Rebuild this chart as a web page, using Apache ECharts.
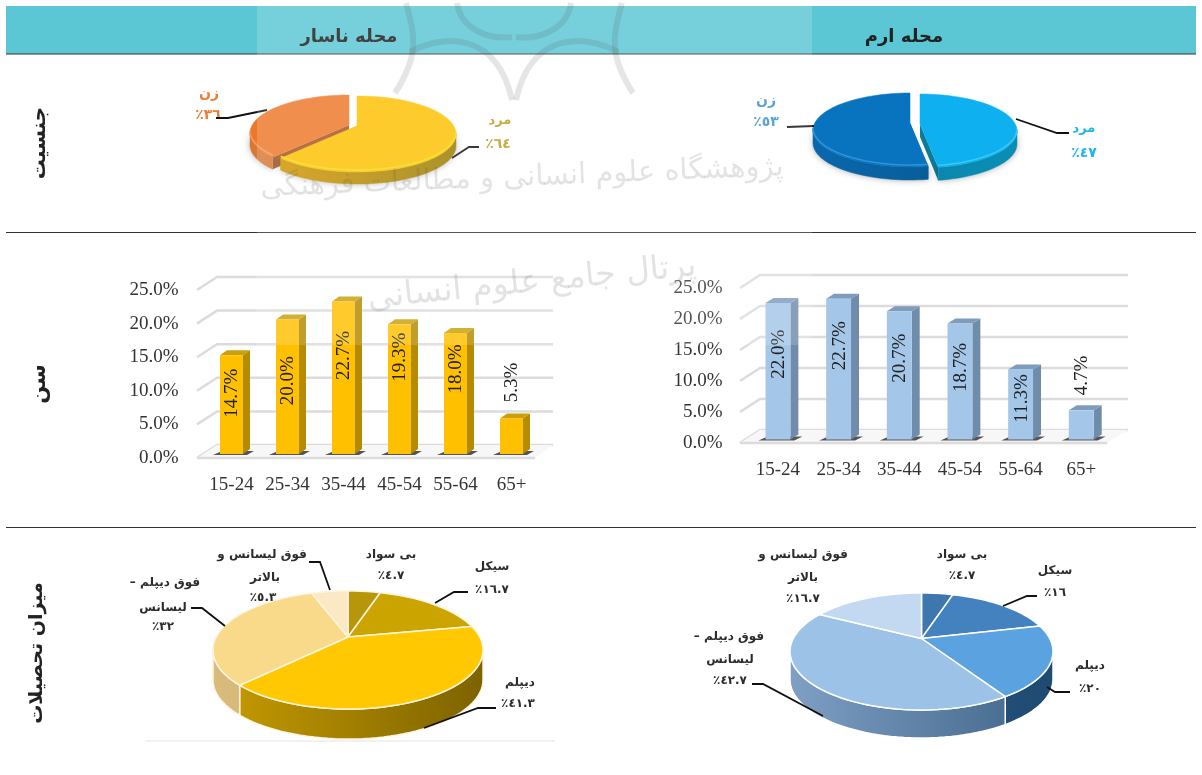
<!DOCTYPE html>
<html>
<head>
<meta charset="utf-8">
<style>
html, body { margin: 0; padding: 0; background: #fff; }
#main { width: 1202px; height: 775px; }
</style>
</head>
<body>
<div id="main"></div>
<script src="https://cdn.jsdelivr.net/npm/echarts@6/dist/echarts.min.js"></script>
<script>
// داده ها
const ageCategories = ['15-24', '25-34', '35-44', '45-54', '55-64', '65+']
const nasarAge = [14.7, 20.0, 22.7, 19.3, 18.0, 5.3]
const eramAge = [22.0, 22.7, 20.7, 18.7, 11.3, 4.7]
const ageTicks = [0, 5, 10, 15, 20, 25]

const nasarGender = [64, 36]
const eramGender = [47, 53]

const nasarEducation = [4.7, 16.7, 41.3, 32, 5.3]
const eramEducation = [4.7, 16, 20, 42.7, 16.7]

const faFont = '"DejaVu Sans"'
const latinFont = '"Liberation Serif"'

// label offset below the bar top, px
const nasarLabelDy = [38, 61, 54, 33, 36, -36]
const eramLabelDy = [51, 47, 47, 44, 29, -35]

const myChart = echarts.init(document.getElementById('main'))

function rad(a) { return a * Math.PI / 180 }

// one elliptical 3D pie, angles clockwise from the top
function pieSeries(values, p) {
  const total = values.reduce((s, v) => s + v, 0)
  // perspective: near slices open up, far ones close
  const warp = (a) => a - (p.warp || 0) * Math.sin(rad(a))
  return {
    type: 'custom',
    coordinateSystem: 'none',
    silent: true,
    animation: false,
    z: 3,
    data: values.map((v, i) => [v, i]),
    renderItem: function (params, api) {
      const i = params.dataIndex
      let before = 0
      for (let k = 0; k < i; k++) before += values[k]
      const a0 = warp(before / total * 360)
      const a1 = warp((before + api.value(0)) / total * 360)
      const off = p.explode ? p.explode[i] : [0, 0]
      const order = p.order ? p.order[i] : 0
      const cx = p.cx + off[0]
      const cy = p.cy + off[1]
      const at = function (a, down) {
        return [cx + p.rx * Math.sin(rad(a)), cy - p.ry * Math.cos(rad(a)) + (down || 0)]
      }
      const tip = [cx, cy - p.tipUp]
      const arc = function (from, to, down) {
        const pts = []
        const n = Math.max(2, Math.ceil((to - from) / 3))
        for (let k = 0; k <= n; k++) pts.push(at(from + (to - from) * k / n, down))
        return pts
      }
      const children = []
      const sideFill = {
        type: 'linear', global: true,
        x: p.cx - p.rx, y: 0, x2: p.cx + p.rx, y2: 0,
        colorStops: [
          { offset: 0, color: p.side[i][0] },
          { offset: 1, color: p.side[i][1] }
        ]
      }
      const wallStyle = {
        fill: sideFill,
        stroke: p.stroke || sideFill,
        lineWidth: p.stroke ? 1.5 : 0.5,
        shadowBlur: p.shadow ? 6 : 0,
        shadowColor: 'rgba(0,0,0,0.3)'
      }
      // cut faces, only for pulled out slices
      if (p.explode) {
        [a0, a1].forEach(function (a) {
          const e = at(a)
          children.push({
            type: 'polygon',
            z2: order * 3,
            shape: { points: [tip, e, [e[0], e[1] + p.depth], [tip[0], tip[1] + p.depth]] },
            style: { fill: p.cut[i] }
          })
        })
      }
      // visible outer wall
      const w0 = Math.max(a0, 90)
      const w1 = Math.min(a1, 270)
      if (w1 > w0) {
        const pts = arc(w0, w1).concat(arc(w0, w1, p.depth).reverse())
        children.push({ type: 'polygon', z2: order * 3 + 1, shape: { points: pts }, style: wallStyle })
      }
      // top face
      children.push({
        type: 'polygon',
        z2: order * 3 + 2,
        shape: { points: [tip].concat(arc(a0, a1)) },
        style: { fill: p.top[i], stroke: p.stroke || p.top[i], lineWidth: p.stroke ? 1.5 : 0.5, lineJoin: 'round' }
      })
      // lighter rim on the near edge
      if (p.rim && w1 > w0) {
        children.push({
          type: 'polyline',
          z2: order * 3 + 2,
          shape: { points: arc(w0, w1, -2) },
          style: { fill: null, stroke: p.rim[i], lineWidth: 1.5 }
        })
      }
      return { type: 'group', children: children }
    }
  }
}

// 3D columns on a cartesian grid
function barSeries(gridIndex, values, labelDy, c) {
  return {
    type: 'custom',
    xAxisIndex: gridIndex,
    yAxisIndex: gridIndex,
    silent: true,
    animation: false,
    z: 4,
    encode: { x: 0, y: 1 },
    data: values.map((v, i) => [i, v]),
    renderItem: function (params, api) {
      const top = api.coord([api.value(0), api.value(1)])
      const bottom = api.coord([api.value(0), 0])
      const w = api.size([1, 0])[0] * 0.41
      const l = top[0] - w / 2
      const r = top[0] + w / 2
      const t = top[1] - c.lift
      const b = bottom[1] - c.lift
      const dx = c.dx
      const dy = c.dy
      return {
        type: 'group',
        children: [
          // floor shadow
          { type: 'polygon', shape: { points: [[l - 7, b + 1], [l + 2, b - 3], [r + dx + 4, b - 3], [r + 4, b + 1]] },
            style: { fill: '#555' } },
          { type: 'polygon', shape: { points: [[r, t], [r + dx, t - dy], [r + dx, b - dy], [r, b]] },
            style: { fill: c.side } },
          { type: 'polygon', shape: { points: [[l, t], [l + dx, t - dy], [r + dx, t - dy], [r, t]] },
            style: { fill: c.cap } },
          { type: 'rect', shape: { x: l, y: t, width: w, height: b - t }, style: { fill: c.front } },
          {
            type: 'text',
            x: top[0] + 1,
            y: t + labelDy[params.dataIndex],
            rotation: Math.PI / 2,
            style: {
              text: api.value(1).toFixed(1) + '%',
              font: '19px ' + latinFont,
              fill: '#222',
              align: 'center',
              verticalAlign: 'middle'
            }
          }
        ]
      }
    }
  }
}

// back wall and floor drawn for each axis tick
function wallSeries(gridIndex, c) {
  return {
    type: 'custom',
    xAxisIndex: gridIndex,
    yAxisIndex: gridIndex,
    silent: true,
    animation: false,
    z: 1,
    encode: { y: 0 },
    data: ageTicks.map((t) => [t]),
    renderItem: function (params, api) {
      const y = api.coord([0, api.value(0)])[1]
      const rect = params.coordSys
      const x0 = rect.x - c.left
      const x1 = x0 + c.dx
      const lineStyle = { stroke: '#dcdcdc', lineWidth: 2.5, fill: null }
      const children = [
        { type: 'polyline', shape: { points: [[x0, y], [x1, y - c.dy], [c.right, y - c.dy]] }, style: lineStyle }
      ]
      if (api.value(0) === 0) {
        children.push({ type: 'polygon', shape: { points: [[x0, y], [x1, y - c.dy], [c.right, y - c.dy], [c.floorEnd, y]] },
          style: { fill: '#f7f7f7' } })
        children.push({ type: 'line', shape: { x1: x0, y1: y, x2: c.floorEnd, y2: y }, style: lineStyle })
      }
      return { type: 'group', children: children }
    }
  }
}

function txt(text, x, y, o) {
  o = o || {}
  return {
    type: 'text',
    x: x,
    y: y,
    z: o.z || 6,
    rotation: o.rotation || 0,
    silent: true,
    style: {
      text: text,
      font: (o.weight || 'bold') + ' ' + (o.size || 12) + 'px ' + faFont,
      fill: o.color || '#2c2c2c',
      align: 'center',
      verticalAlign: 'middle'
    }
  }
}

function leader(points) {
  return { type: 'polyline', z: 6, silent: true, shape: { points: points }, style: { stroke: '#111', lineWidth: 1.8, fill: null } }
}

function hline(y, x0, x1, color, width) {
  return { type: 'line', z: 6, silent: true, shape: { x1: x0, y1: y, x2: x1, y2: y }, style: { stroke: color, lineWidth: width } }
}

const wmColor = 'rgba(80,80,80,0.15)'
function logoStroke(pts) {
  const m = 514
  const one = function (q) {
    return {
      type: 'bezierCurve', z: 11, silent: true,
      shape: { x1: q[0][0], y1: q[0][1], cpx1: q[1][0], cpy1: q[1][1], cpx2: q[2][0], cpy2: q[2][1], x2: q[3][0], y2: q[3][1] },
      style: { stroke: wmColor, lineWidth: 6, fill: null }
    }
  }
  return [one(pts), one(pts.map((a) => [2 * m - a[0], a[1]]))]
}

const graphicElements = [
  // header band and row rules
  { type: 'rect', z: 0, silent: true, shape: { x: 6, y: 6, width: 1190, height: 48 }, style: { fill: '#5bc7d5' } },
  hline(54, 6, 1196, '#333', 1.2),
  hline(232.5, 6, 1196, '#333', 1.2),
  hline(527.5, 6, 1196, '#333', 1.2),
  hline(741, 145, 555, '#ececec', 1.5),
  txt('محله ناسار', 349, 37, { size: 18, color: '#1c1c1c' }),
  txt('محله ارم', 904, 37, { size: 18, color: '#222' }),
  // row titles
  txt('جنسیت', 40, 143, { size: 20, rotation: Math.PI / 2, color: '#222' }),
  txt('سن', 40, 384, { size: 21, rotation: Math.PI / 2, color: '#222' }),
  txt('میزان تحصیلات', 37, 653, { size: 19, rotation: Math.PI / 2, color: '#222' }),
  // gender labels
  txt('زن', 209, 94, { size: 14, color: '#ec7c30' }),
  txt('٪٣٦', 208, 115, { size: 14, color: '#ec7c30' }),
  leader([[216, 118], [228, 118], [267, 110]]),
  txt('مرد', 500, 121, { size: 13, color: '#bf9a1c' }),
  txt('٪٦٤', 498, 144, { size: 14, color: '#bf9a1c' }),
  leader([[452, 158], [469, 147], [479, 147]]),
  txt('زن', 766, 101, { size: 14, color: '#3b90cf' }),
  txt('٪٥٣', 766, 122, { size: 14, color: '#3b90cf' }),
  leader([[787, 127], [814, 126]]),
  txt('مرد', 1084, 129, { size: 13, color: '#1fb4ea' }),
  txt('٪٤٧', 1084, 153, { size: 14, color: '#1fb4ea' }),
  leader([[1016, 119], [1057, 133], [1069, 133]]),
  // education labels, nasar
  txt('فوق لیسانس و', 262, 555),
  txt('بالاتر', 265, 578),
  txt('٪٥.٣', 263, 598),
  leader([[309, 562], [320, 562], [330, 590]]),
  txt('بی سواد', 391, 555),
  txt('٪٤.٧', 391, 576),
  txt('سیکل', 492, 567),
  txt('٪١٦.٧', 492, 590),
  leader([[435, 603], [454, 592], [468, 592]]),
  txt('دیپلم', 520, 683),
  txt('٪٤١.٣', 518, 704),
  leader([[496, 708], [478, 708], [424, 728]]),
  txt('– فوق دیپلم', 165, 583),
  txt('لیسانس', 163, 608),
  txt('٪٣٢', 163, 627),
  leader([[191, 608], [202, 608], [225, 626]]),
  // education labels, eram
  txt('فوق لیسانس و', 803, 555),
  txt('بالاتر', 803, 578),
  txt('٪١٦.٧', 803, 599),
  txt('بی سواد', 962, 555),
  txt('٪٤.٧', 962, 576),
  txt('سیکل', 1055, 571),
  txt('٪١٦', 1055, 593),
  leader([[1037, 596], [1027, 596], [1003, 606]]),
  txt('دیپلم', 1090, 666),
  txt('٪٢٠', 1090, 689),
  leader([[1070, 692], [1055, 692], [1047, 687]]),
  txt('– فوق دیپلم', 729, 637),
  txt('لیسانس', 730, 660),
  txt('٪٤٢.٧', 730, 681),
  leader([[752, 684], [763, 684], [823, 716]]),
  // watermark sheet over the page
  { type: 'rect', z: 10, silent: true, shape: { x: 257, y: 0, width: 555, height: 345 }, style: { fill: 'rgba(255,255,255,0.17)' } },
  txt('پژوهشگاه علوم انسانی و مطالعات فرهنگی', 522, 178, { z: 11, size: 29, weight: 'normal', color: 'rgba(80,80,80,0.16)', rotation: 0.04 }),
  txt('پرتال جامع علوم انسانی', 532, 283, { z: 11, size: 33, weight: 'normal', color: 'rgba(80,80,80,0.16)', rotation: 0.1 })
]
  .concat(logoStroke([[406, 3], [414, 33], [421, 53], [395, 93]]))
  .concat(logoStroke([[410, 52], [446, 33], [497, 33], [512, 100]]))
  .concat(logoStroke([[457, 3], [461, 30], [490, 40], [512, 37]]))

const option = {
  backgroundColor: '#fff',
  animation: false,
  grid: [
    { left: 203.5, top: 290, width: 336, height: 168 },
    { left: 747.6, top: 288, width: 364, height: 155 }
  ],
  xAxis: [0, 1].map((g) => ({
    type: 'category',
    gridIndex: g,
    data: ageCategories,
    axisLine: { show: false },
    axisTick: { show: false },
    axisLabel: { margin: 18, fontFamily: 'Liberation Serif', fontSize: 19, color: '#333', interval: 0 }
  })),
  yAxis: [0, 1].map((g) => ({
    type: 'value',
    gridIndex: g,
    min: 0,
    max: 25,
    interval: 5,
    axisLine: { show: false },
    axisTick: { show: false },
    splitLine: { show: false },
    axisLabel: {
      margin: 25,
      fontFamily: 'Liberation Serif',
      fontSize: 19,
      color: '#333',
      formatter: (v) => v.toFixed(1) + '%'
    }
  })),
  graphic: { elements: graphicElements },
  series: [
    wallSeries(0, { left: 6.5, dx: 20, dy: 13, right: 553, floorEnd: 535 }),
    wallSeries(1, { left: 7.6, dx: 20, dy: 13, right: 1128, floorEnd: 1107 }),
    barSeries(0, nasarAge, nasarLabelDy, { lift: 4, dx: 7, dy: 5, front: '#ffc000', side: '#b58b00', cap: '#c9a00c' }),
    barSeries(1, eramAge, eramLabelDy, { lift: 3.5, dx: 8, dy: 5, front: '#a4c6e8', side: '#6f8cab', cap: '#7f9cbd' }),
    pieSeries(nasarGender, {
      cx: 357, cy: 134, rx: 99, ry: 38, tipUp: 8, depth: 12, shadow: true,
      order: [1, 0],
      explode: [[0, 0], [-8, -1]],
      top: ['#fdc100', '#ec782a'],
      side: [['#d99a00', '#9c7e00'], ['#dc7a36', '#cc6a2a']],
      cut: ['#c08f00', '#a85620'],
      rim: ['#eedd10', '#f49c60']
    }),
    pieSeries(eramGender, {
      cx: 915, cy: 131, rx: 97, ry: 37, tipUp: 7, depth: 13, shadow: true,
      order: [1, 0],
      explode: [[5, 0], [-5, -1]],
      top: ['#0fb0ef', '#0873bf'],
      side: [['#0b7fa3', '#0a8fb8'], ['#0a68ad', '#05588f']],
      cut: ['#0b7d96', '#05609f'],
      rim: ['#3cc8f5', '#2f94d8']
    }),
    pieSeries(nasarEducation, {
      cx: 348, cy: 650, rx: 135, ry: 59, tipUp: 13, depth: 30, warp: 10.7, stroke: '#fff4dc',
      top: ['#b8960c', '#cca400', '#ffc800', '#f9d98a', '#fbe8c4'],
      side: [['#8a7000', '#8a7000'], ['#8a7000', '#8a7000'], ['#c79c00', '#7d6300'], ['#d9bb7c', '#c4a566'], ['#e8d5aa', '#e8d5aa']]
    }),
    pieSeries(eramEducation, {
      cx: 921.5, cy: 651.5, rx: 131.5, ry: 58.5, tipUp: 13, depth: 28, warp: 10.7, stroke: '#ffffff',
      top: ['#3e77ae', '#4482bf', '#5ba3e0', '#9cc2e8', '#c3d8f1'],
      side: [['#2a5a88', '#2a5a88'], ['#2a5a88', '#2a5a88'], ['#2f5f8a', '#1f4a72'], ['#7f9fc4', '#3f6388'], ['#9db4cf', '#9db4cf']]
    })
  ]
}

myChart.setOption(option)

window.addEventListener('resize', () => {
  myChart.resize()
})
</script>
</body>
</html>
